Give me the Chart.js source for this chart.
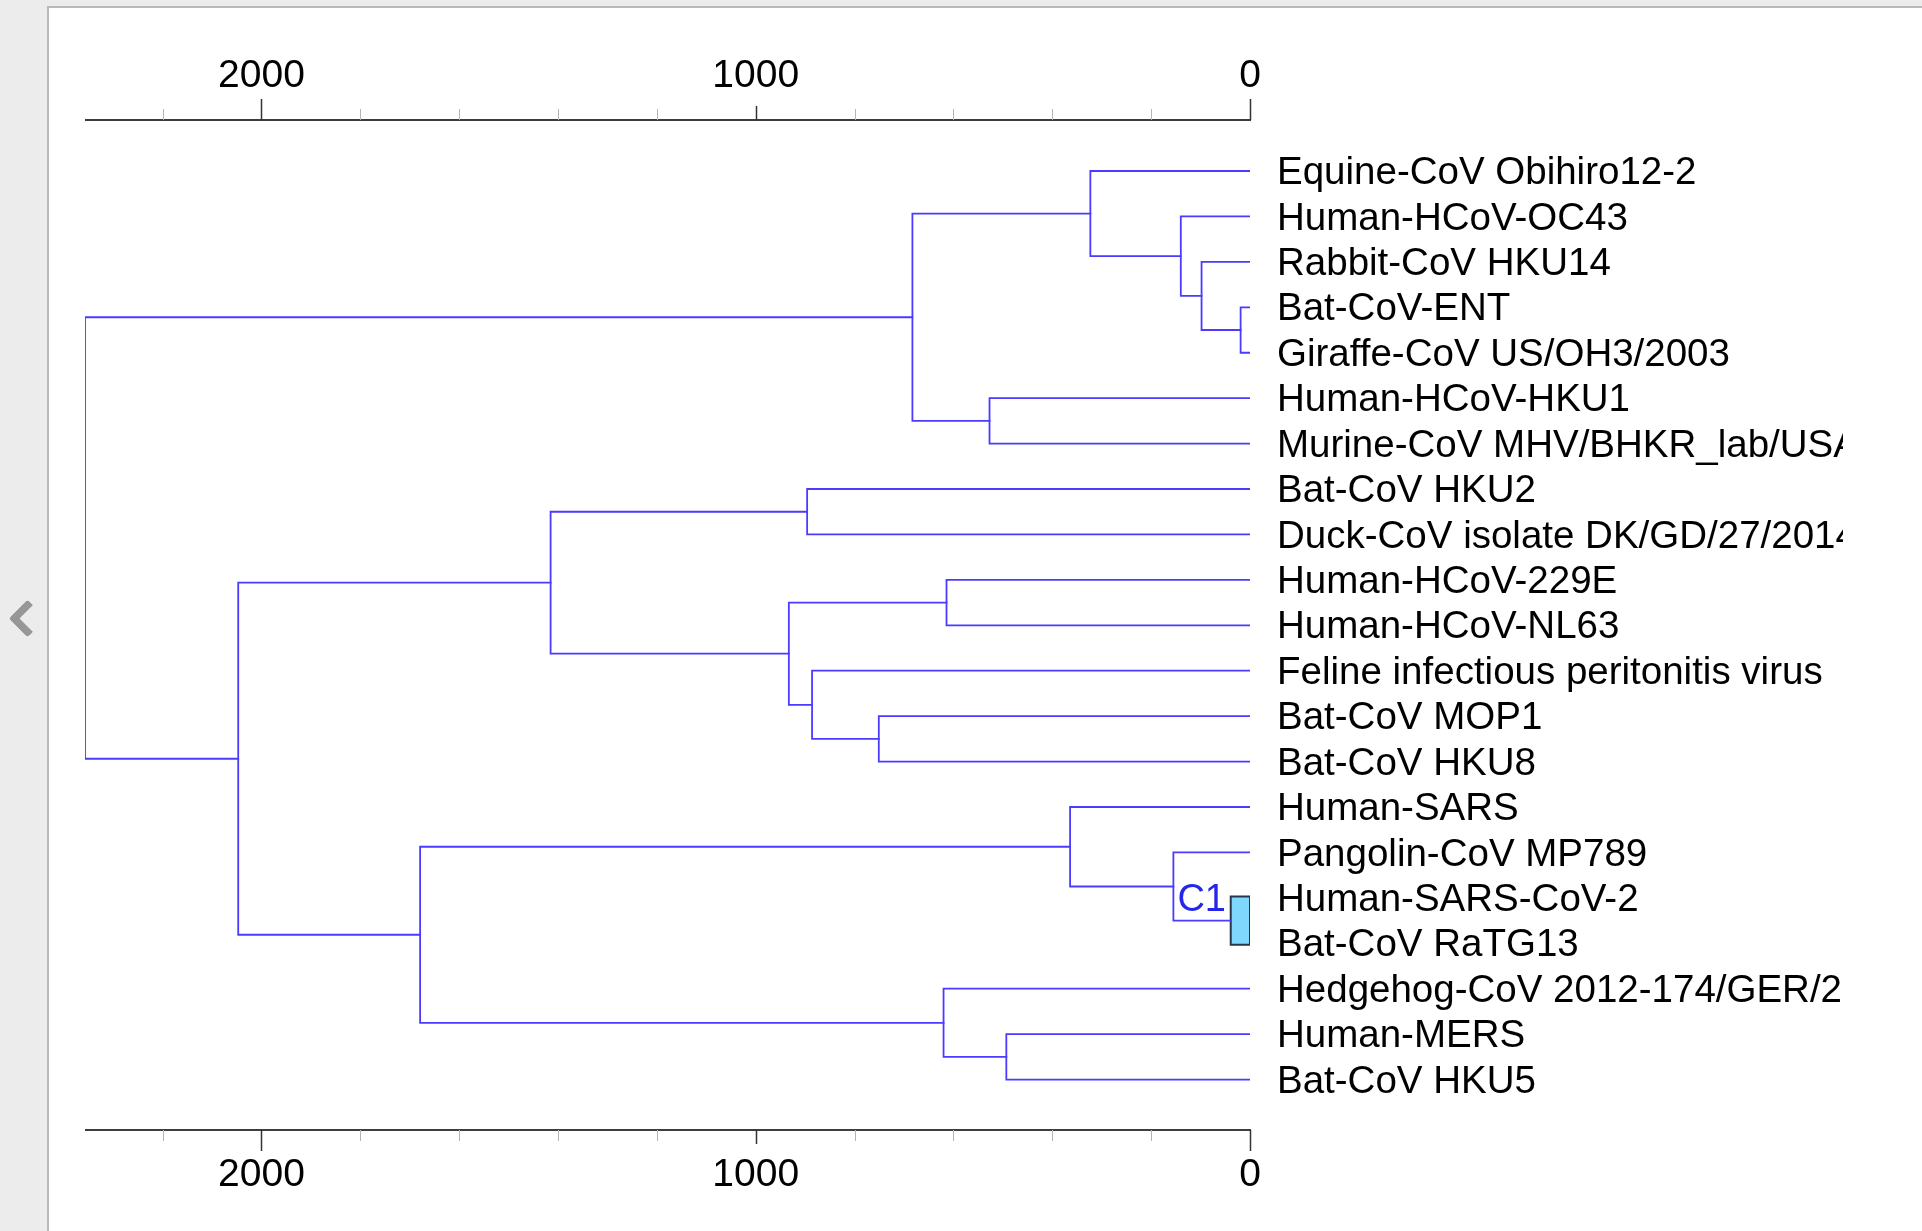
<!DOCTYPE html>
<html>
<head>
<meta charset="utf-8">
<script src="https://cdn.jsdelivr.net/npm/chart.js@4.4.1/dist/chart.umd.min.js"></script>
<style>
  html, body { margin: 0; padding: 0; width: 1922px; height: 1231px; overflow: hidden; background: #ececec; }
  #panel { position: absolute; left: 47px; top: 6px; right: 0; bottom: 0; background: #fff;
           border-left: 2px solid #b9b9b9; border-top: 2px solid #b9b9b9; }
  #chevron { position: absolute; left: 14px; top: 605px; width: 19px; height: 19px;
             border-left: 8px solid #979797; border-bottom: 8px solid #979797;
             border-radius: 4px; transform: rotate(45deg); }
  #tree { position: absolute; left: 0; top: 0; }
</style>
</head>
<body>
<div id="panel"></div>
<div id="chevron"></div>
<canvas id="tree" width="1843" height="1231"></canvas>
<script>
// leaves, top to bottom
const leafNames = [
  'Equine-CoV Obihiro12-2',
  'Human-HCoV-OC43',
  'Rabbit-CoV HKU14',
  'Bat-CoV-ENT',
  'Giraffe-CoV US/OH3/2003',
  'Human-HCoV-HKU1',
  'Murine-CoV MHV/BHKR_lab/USA',
  'Bat-CoV HKU2',
  'Duck-CoV isolate DK/GD/27/2014',
  'Human-HCoV-229E',
  'Human-HCoV-NL63',
  'Feline infectious peritonitis virus',
  'Bat-CoV MOP1',
  'Bat-CoV HKU8',
  'Human-SARS',
  'Pangolin-CoV MP789',
  'Human-SARS-CoV-2',
  'Bat-CoV RaTG13',
  'Hedgehog-CoV 2012-174/GER/2012',
  'Human-MERS',
  'Bat-CoV HKU5'
];

// internal nodes: id, age (axis units), children (node id or leaf index)
const nodeIds = ['root', 'A', 'a1', 'a2', 'a3', 'a4', 'a5', 'B', 'B1', 'b1', 'b2', 'b3', 'b4', 'b5', 'B2', 'c1', 'c2', 'C1', 'c3', 'c4'];
const nodeAges = [2357, 683, 323, 140, 98, 19, 527, 2047, 1415, 896, 933, 614, 886, 751, 1679, 364, 155, 39, 620, 493];
const nodeChildren = [
  ['A', 'B'], ['a1', 'a5'], [0, 'a2'], [1, 'a3'], [2, 'a4'], [3, 4], [5, 6],
  ['B1', 'B2'], ['b1', 'b2'], [7, 8], ['b3', 'b4'], [9, 10], [11, 'b5'], [12, 13],
  ['c1', 'c3'], [14, 'c2'], [15, 'C1'], [16, 17], [18, 'c4'], [19, 20]
];
const collapsedIds = ['C1'];
const cladeLabels = ['C1'];

// axis
const axisMax = 2357;
const tickValues = [0, 200, 400, 600, 800, 1000, 1200, 1400, 1600, 1800, 2000, 2200];
const tickLabelValues = [0, 1000, 2000];
const tickLabels = ['0', '1000', '2000'];

const lineColor = '#4b3bff';
const fontFamily = '"Liberation Sans", Arial, Helvetica, sans-serif';

function ageOf(c) {
  return typeof c === 'number' ? 0 : nodeAges[nodeIds.indexOf(c)];
}
function rowOf(c) {
  if (typeof c === 'number') return c;
  const kids = nodeChildren[nodeIds.indexOf(c)];
  return (rowOf(kids[0]) + rowOf(kids[kids.length - 1])) / 2;
}

const datasets = [];
nodeIds.forEach((id, i) => {
  const age = nodeAges[i];
  const kids = nodeChildren[i];
  if (collapsedIds.includes(id)) {
    const top = rowOf(kids[0]) - 0.03, bot = rowOf(kids[kids.length - 1]) + 0.03;
    datasets.push({
      data: [{x: age, y: top}, {x: 0, y: top}, {x: 0, y: bot}, {x: age, y: bot}, {x: age, y: top}],
      borderColor: '#26394b', borderWidth: 2, backgroundColor: '#80d7fd', fill: 'shape'
    });
    return;
  }
  const first = kids[0], last = kids[kids.length - 1];
  datasets.push({
    data: [
      {x: ageOf(first), y: rowOf(first)}, {x: age, y: rowOf(first)},
      {x: age, y: rowOf(last)}, {x: ageOf(last), y: rowOf(last)}
    ],
    borderColor: lineColor, borderWidth: 1.8, fill: false
  });
});

// axes, ticks, leaf names and the clade label
const treeDecor = {
  id: 'treeDecor',
  afterDraw(chart) {
    const ctx = chart.ctx;
    const area = chart.chartArea;
    ctx.save();
    [['x', area.top, -1, 76], ['x2', area.bottom, 1, 1175]].forEach(([id, y0, dir, labelY]) => {
      const s = chart.scales[id];
      ctx.strokeStyle = '#3d3d3d';
      ctx.lineWidth = 2;
      ctx.beginPath();
      ctx.moveTo(s.getPixelForValue(axisMax), y0);
      ctx.lineTo(s.getPixelForValue(0) + 1, y0);
      ctx.stroke();
      tickValues.forEach(v => {
        const x = Math.round(s.getPixelForValue(v)) + 0.5;
        const major = v % 1000 === 0;
        const len = v % 2000 === 0 ? 21 : major ? 14 : 11;
        ctx.strokeStyle = major ? '#333' : '#b5b5b5';
        ctx.lineWidth = major ? 1.5 : 1;
        ctx.beginPath();
        ctx.moveTo(x, y0);
        ctx.lineTo(x, y0 + dir * len);
        ctx.stroke();
      });
      ctx.fillStyle = '#000';
      ctx.font = '39px ' + fontFamily;
      ctx.textAlign = 'center';
      ctx.textBaseline = 'middle';
      tickLabelValues.forEach((v, k) => ctx.fillText(tickLabels[k], s.getPixelForValue(v), labelY));
    });

    const xs = chart.scales.x, ys = chart.scales.y;
    ctx.fillStyle = '#000';
    ctx.font = '38.5px ' + fontFamily;
    ctx.textAlign = 'left';
    ctx.textBaseline = 'middle';
    leafNames.forEach((name, i) => ctx.fillText(name, area.right + 27, ys.getPixelForValue(i) + 2.5));

    cladeLabels.forEach(id => {
      const parent = nodeIds[nodeChildren.findIndex(k => k.includes(id))];
      ctx.fillStyle = '#2626ea';
      ctx.font = '38px ' + fontFamily;
      ctx.textBaseline = 'alphabetic';
      ctx.fillText(id, xs.getPixelForValue(ageOf(parent)) + 4, ys.getPixelForValue(rowOf(id)) - 10);
    });
    ctx.restore();
  }
};

new Chart(document.getElementById('tree'), {
  type: 'scatter',
  data: { datasets: datasets.map(d => Object.assign({showLine: true, pointRadius: 0, tension: 0, borderCapStyle: 'square'}, d)) },
  options: {
    responsive: false,
    animation: false,
    devicePixelRatio: 1,
    layout: { padding: { left: 85, right: 0, top: 0, bottom: 0 } },
    plugins: { legend: { display: false }, tooltip: { enabled: false } },
    scales: {
      x: {
        type: 'linear', position: 'top', reverse: true, min: 0, max: axisMax,
        grid: { display: false }, border: { display: false }, ticks: { display: false },
        afterFit: s => { s.height = 120; }
      },
      x2: {
        type: 'linear', axis: 'x', position: 'bottom', reverse: true, min: 0, max: axisMax,
        grid: { display: false }, border: { display: false }, ticks: { display: false },
        afterFit: s => { s.height = 101; }
      },
      y: {
        type: 'linear', position: 'right', reverse: true, min: -1.123, max: 21.11,
        grid: { display: false, drawTicks: false }, border: { display: false },
        ticks: { display: false },
        afterFit: s => { s.width = 593; }
      }
    }
  },
  plugins: [treeDecor]
});
</script>
</body>
</html>
